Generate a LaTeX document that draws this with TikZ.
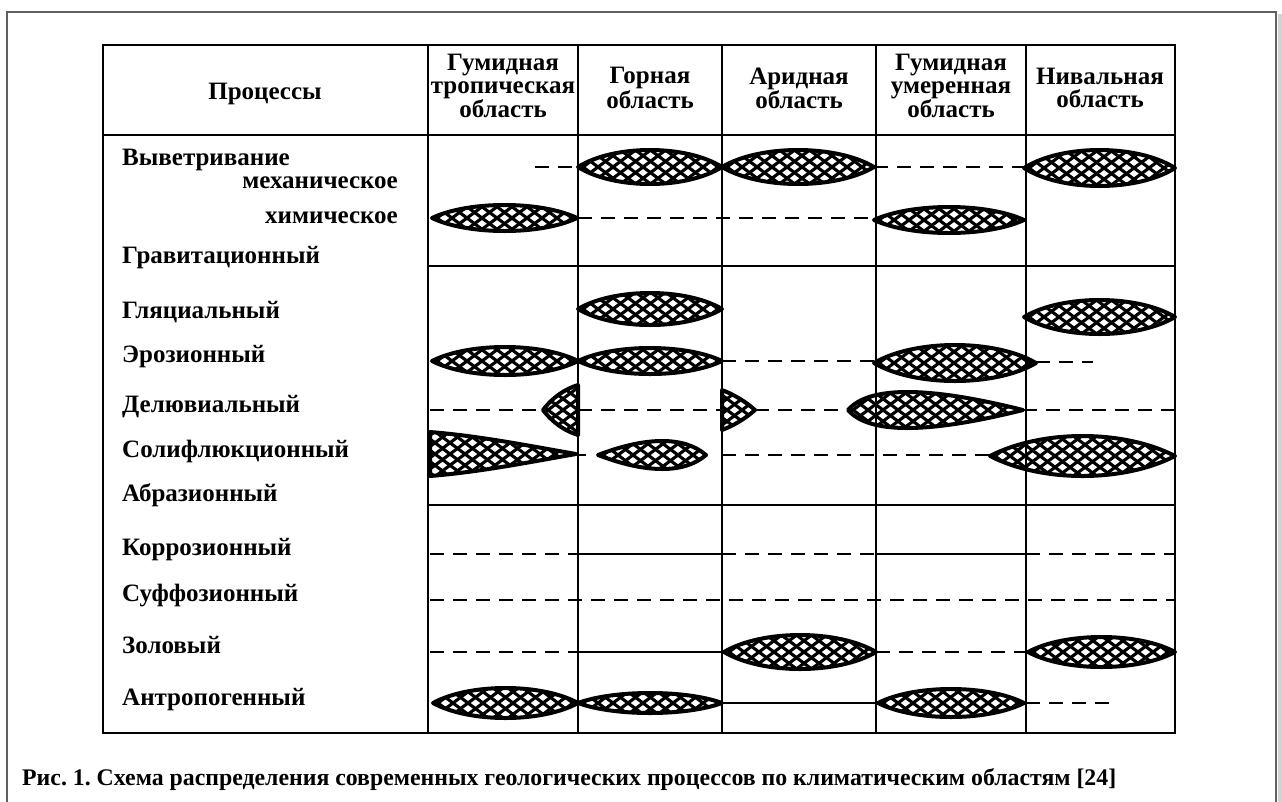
\documentclass[tikz,border=0pt]{standalone}
\usepackage{fontspec}
\setmainfont{Liberation Serif}
\usetikzlibrary{positioning}
\frenchspacing

\tikzset{
  grid/.style={line width=2.4pt},
  dashrule/.style={line width=2.7pt, dash pattern=on 14pt off 9pt},
  solidrule/.style={line width=2.4pt},
  netline/.style={line width=3.1pt},
  rim/.style={line width=4pt, line join=round},
  lbl/.style={anchor=base west, inner sep=0pt, font=\fontsize{25}{25}\selectfont\bfseries},
  sublbl/.style={lbl, anchor=base east},
  colhead/.style={align=center, inner sep=0pt, font=\fontsize{25}{23}\selectfont\bfseries},
}

% hatched shape: left x, axis y, closed path
\newcommand{\netshape}[3]{%
  \begin{scope}
    \clip #3;
    \foreach \t in {-80,-65,...,200}
      \draw[netline] ({#1+\t},{#2-30}) -- ++(80,60) ({#1+\t},{#2+30}) -- ++(80,-60);
  \end{scope}
  \draw[rim] #3;
}
% lens: x1, x2, y, half height, left/right control fractions
\newcommand{\netlens}[6]{%
  \pgfmathsetmacro\lensA{#1+(#2-#1)*#5}%
  \pgfmathsetmacro\lensB{#2-(#2-#1)*#6}%
  \pgfmathsetmacro\lensU{#3-#4*4/3}%
  \pgfmathsetmacro\lensD{#3+#4*4/3}%
  \netshape{#1}{#3}{(#1,#3) .. controls (\lensA,\lensU) and (\lensB,\lensU) .. (#2,#3) .. controls (\lensB,\lensD) and (\lensA,\lensD) .. cycle}%
}

\begin{document}
\begin{tikzpicture}[x=1pt,y=-1pt]
  \useasboundingbox (0,0) rectangle (1282,801);

  % page frame
  \fill[gray!35] (1277.5,14) rectangle (1282,815);
  \draw[gray!75!black, line width=1.6pt] (7,815) -- (7,12) -- (1276,12) -- (1276,815);

  % table grid
  \draw[grid] (103,45) rectangle (1175,733);
  \draw[grid] (103,135) -- (1175,135);
  \foreach \y in {266,505}
    \draw[grid] (428,\y) -- (1175,\y);
  \foreach \x in {428,578,722,876,1026}
    \draw[grid] (\x,45) -- (\x,733);

  % header
  \node[colhead] (hproc) at (265,94) {Процессы};
  \node[colhead] (htrop) at (503,86) {Гумидная\\тропическая\\область};
  \node[colhead] (hmount) at (650,88) {Горная\\область};
  \node[colhead] (harid) at (799,88) {Аридная\\область};
  \node[colhead] (htemp) at (951,86) {Гумидная\\умеренная\\область};
  \node[colhead] (hnival) at (1100,88) {Нивальная\\область};

  % process labels
  \foreach \n/\y/\txt in {pwea/165/Выветривание, pgrav/263/Гравитационный,
      pglac/318/Гляциальный, peros/362/Эрозионный, pdel/412/Делювиальный,
      psol/457/Солифлюкционный, pabr/501/Абразионный, pcor/555/Коррозионный,
      psuf/601/Суффозионный, paeol/653/Золовый, pant/705/Антропогенный}
    \node[lbl] (\n) at (122,\y) {\txt};
  \node[sublbl] (pmech) at (398,188) {механическое};
  \node[sublbl] (pchem) at (398,223) {химическое};

  % dashed and solid rules
  \foreach \a/\b/\y in {535/578/167, 874/1026/167, 578/874/218, 722/874/361,
      1036/1093/362, 430/543/410, 578/722/410, 755/848/410, 1023/1175/410,
      578/586/455, 722/990/455, 430/578/554, 722/876/554, 1026/1175/554,
      430/1175/600, 430/578/652, 876/1026/652, 1026/1110/703}
    \draw[dashrule] (\a,\y) -- (\b,\y);
  \foreach \a/\b/\y in {578/722/554, 876/1026/554, 578/724/652, 722/878/703}
    \draw[solidrule] (\a,\y) -- (\b,\y);

  % hatched lenses
  \foreach \a/\b/\y/\h/\p/\q in {578/722/167/17/.25/.25, 722/874/167/17/.25/.25,
      1024/1175/168/18/.25/.25, 432/577/218/13/.25/.25, 874/1024/220/13/.25/.25,
      578/722/309/16/.25/.25, 1024/1175/317/17/.25/.25,
      432/578/361/14/.25/.25, 578/722/361/13/.25/.25, 874/1036/363/18/.25/.25,
      848/1023/410/18/.12/.55, 598/706/455/14/.45/.2, 990/1175/456/20/.28/.28,
      724/876/652/17/.25/.25, 1028/1175/652/15/.25/.25,
      433/578/703/15/.25/.25, 578/722/703/10/.25/.25, 878/1024/703/14/.25/.25}
    \netlens{\a}{\b}{\y}{\h}{\p}{\q};

  % cut wedges at column lines
  \netshape{543}{410}{(543,410) .. controls (553,397) and (565,389) .. (578,385) -- (578,435) .. controls (565,431) and (553,423) .. cycle};
  \netshape{722}{410}{(722,390) .. controls (735,395) and (746,402) .. (755,410) .. controls (746,418) and (735,425) .. (722,430) -- cycle};
  \netshape{430}{454}{(430,432) .. controls (480,436) and (530,446) .. (576,454) .. controls (530,462) and (480,472) .. (430,476) -- cycle};

  % caption
  \node[lbl, font=\fontsize{23.8}{24}\selectfont\bfseries] (caption) at (22,785) {Рис. 1. Схема распределения современных геологических процессов по климатическим областям [24]};
\end{tikzpicture}
\end{document}
